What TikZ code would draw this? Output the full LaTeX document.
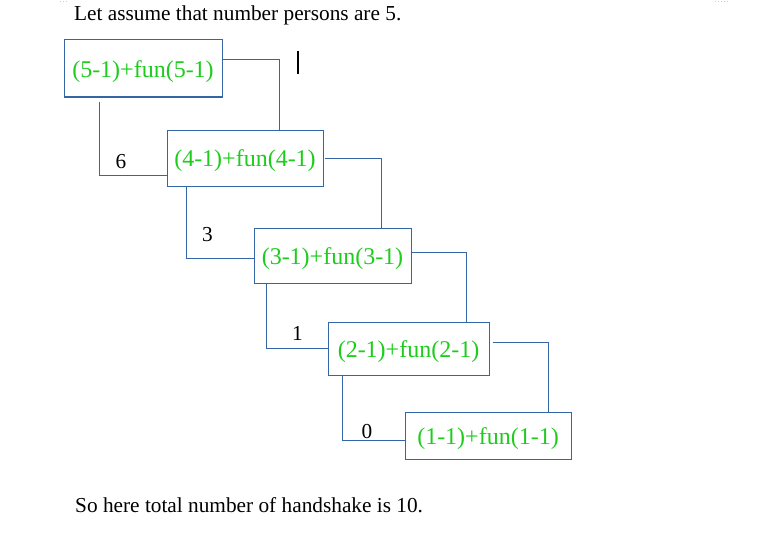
\documentclass[tikz,border=0pt]{standalone}
\usepackage{fontspec}
\setmainfont{Liberation Serif}
\definecolor{boxblue}{HTML}{3465A4}
\definecolor{txtgreen}{HTML}{1ECC1E}
\definecolor{markcyan}{HTML}{A8DCEC}
\newcommand{\lowtext}[1]{\raisebox{-3pt}[\height][\depth]{#1}}
\tikzset{
  fbox/.style={draw=boxblue, line width=1pt, inner sep=0pt, text=txtgreen,
    font=\fontsize{24}{26}\selectfont},
  conn/.style={draw=boxblue, line width=1pt},
  numlbl/.style={inner sep=0pt, font=\fontsize{21.3}{24}\selectfont},
  plain/.style={inner sep=0pt, font=\fontsize{21.3}{24}\selectfont}
}
\begin{document}
\begin{tikzpicture}[x=1pt,y=-1pt]
\useasboundingbox (0,0) rectangle (758,535);
% corner marks
\draw[markcyan, line width=1pt, dotted] (60,2) -- (68,2);
\draw[markcyan, line width=1pt, dotted] (715,2) -- (729,2);
% texts
\node[plain, anchor=base west] (top) at (74,21) {Let assume that number persons are 5.};
\node[plain, anchor=base west] (bottom) at (75,512) {So here total number of handshake is 10.};
% boxes
\node[fbox, minimum width=158pt, minimum height=57pt] (b1) at (143,68.5) {\lowtext{(5-1)+fun(5-1)}};
\node[fbox, minimum width=156pt, minimum height=56pt] (b2) at (245,158) {\lowtext{(4-1)+fun(4-1)}};
\node[fbox, minimum width=157pt, minimum height=55pt] (b3) at (332.5,255.5) {\lowtext{(3-1)+fun(3-1)}};
\node[fbox, minimum width=161pt, minimum height=53pt] (b4) at (408.5,348.5) {\lowtext{(2-1)+fun(2-1)}};
\node[fbox, minimum width=166pt, minimum height=47pt] (b5) at (488,435.5) {\lowtext{(1-1)+fun(1-1)}};
% right connectors
\draw[conn] ([yshift=8.5pt]b1.east) -| ([xshift=34pt]b2.north);
\draw[conn] ([xshift=1pt]b2.east) -| ([xshift=48.5pt]b3.north);
\draw[conn] ([yshift=3.5pt]b3.east) -| ([xshift=57.5pt]b4.north);
\draw[conn] ([xshift=3pt,yshift=6.5pt]b4.east) -| ([xshift=60pt]b5.north);
% left connectors
\draw[conn] ([xshift=-44pt,yshift=-4pt]b1.south) |- ([yshift=-17pt]b2.west);
\draw[conn] ([xshift=-59pt]b2.south) |- ([yshift=-2.5pt]b3.west);
\draw[conn] ([xshift=-66.5pt]b3.south) |- (b4.west);
\draw[conn] ([xshift=-66.5pt]b4.south) |- ([yshift=-4.5pt]b5.west);
% labels
\node[numlbl] (l6) at (121,162) {6};
\node[numlbl] (l3) at (207.5,235) {3};
\node[numlbl] (l1) at (297.5,333) {1};
\node[numlbl] (l0) at (367,432) {0};
% text cursor
\draw[black, line width=2pt] (298,51) -- (298,74);
\end{tikzpicture}
\end{document}
